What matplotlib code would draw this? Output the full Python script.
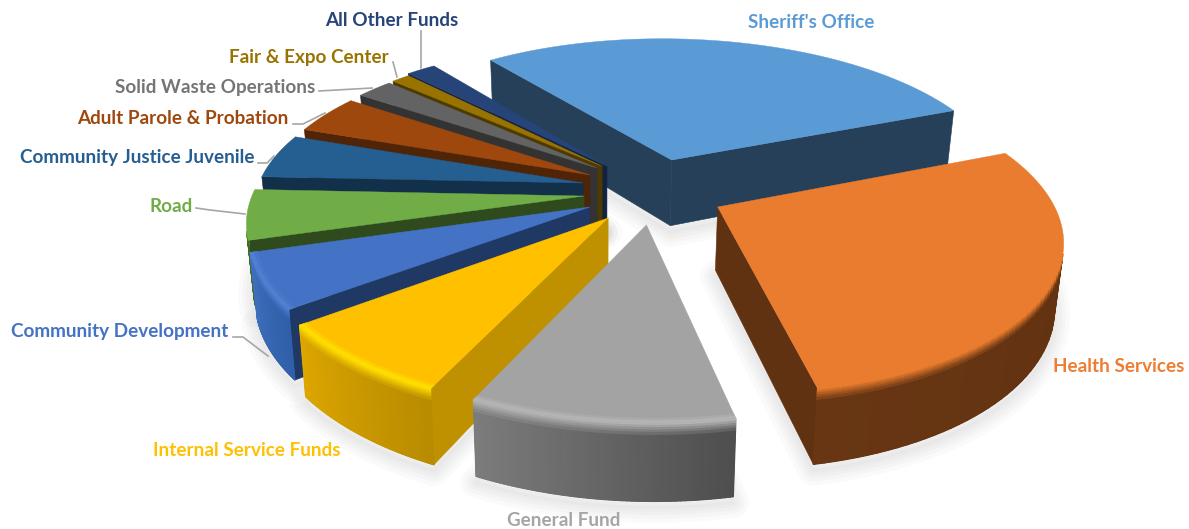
import numpy as np
import matplotlib
matplotlib.use("Agg")
import matplotlib.pyplot as plt
from matplotlib.collections import PolyCollection
from matplotlib.colors import to_rgb

# Budget shares by fund, in percent, clockwise from the Sheriff's Office
funds = ["Sheriff's Office", "Health Services", "General Fund", "Internal Service Funds",
         "Community Development", "Road", "Community Justice Juvenile",
         "Adult Parole & Probation", "Solid Waste Operations", "Fair & Expo Center",
         "All Other Funds"]
shares = [29.2, 28.0, 10.2, 7.6, 5.7, 5.25, 4.8, 4.25, 2.2, 1.1, 1.7]

# Slice appearance
top_colors = ["#5B9BD5", "#E97C2E", "#A3A3A3", "#FFC000", "#4472C4", "#70AD47",
              "#255E91", "#9E480E", "#636363", "#997300", "#264478"]
radial_colors = ["#254058", "#613211", "#5A5A5A", "#BF9000", "#1F3864", "#2F4A1D",
                 "#12304A", "#4F2407", "#333333", "#4D3A00", "#132240"]
wall_left = ["#254058", "#683613", "#7C7C7C", "#DDA600", "#3F6EBD", "#3F6B27",
             "#1A4A73", "#6A3009", "#444444", "#6A5000", "#1A2F55"]
wall_right = ["#254058", "#5E3010", "#4E4E4E", "#B88B00", "#2F5FA8", "#3F6B27",
              "#1A4A73", "#6A3009", "#444444", "#6A5000", "#1A2F55"]
rim_colors = ["#5B9BD5", "#E97C2E", "#B4B4B4", "#FFDD00", "#4F80D2", "#70AD47",
              "#255E91", "#9E480E", "#636363", "#997300", "#264478"]
label_colors = ["#5B9BD5", "#ED7D31", "#A5A5A5", "#FFC000", "#4472C4", "#70AD47",
                "#255E91", "#9E480E", "#757575", "#997300", "#264478"]

# Explosion of each slice in disc units, its radius and its thickness
offsets = [(.206, -.207), (.330, .111), (.119, .224), (.009, .181), (-.044, .111),
           (-.062, .04), (-.066, -.047), (-.046, -.102), (-.024, -.15), (-.009, -.163),
           (.006, -.163)]
radii = [1.01, .987, 1.005, 1, .985, .985, .975, .975, .97, .975, 1.0]
depths = [68, 62, 62, 62, 62, 62, 62, 62, 62, 62, 62]

label_xy = [(811, 23), (1119, 367), (564, 520), (247, 450), (120, 331), (171, 207),
            (137, 158), (183, 119), (215, 87), (309, 57), (392, 20)]
leaders = [None, None, None, None,
           [(233, 337), (243, 337), (268, 356)],
           [(196, 208), (210, 210), (245, 214)],
           [(258, 163), (267, 163), (274, 156)],
           [(293, 124), (303, 124), (325, 113)],
           [(319, 91), (372, 88)],
           [(393, 62), (397, 77)],
           [(421, 31), (421, 68)]]

START_ANGLE = 323.1
DRAW_ORDER = [0, 10, 9, 8, 7, 6, 5, 4, 3, 2, 1]

# Perspective view of the disc
OX, OY, AX_U, AX_V, PERSP = 605.0, 190.0, 335.0, 150.0, 0.17
BOTTOM_SCALE = 0.98


def top_point(u, v):
    w = 1 / (1 - PERSP * v)
    return OX + AX_U * u * w, OY + AX_V * v * w


def bottom_point(u, v, depth):
    w = 1 / (1 - PERSP * v)
    x, y = top_point(u, v)
    return OX + (x - OX) * BOTTOM_SCALE, y + depth * w


def shade(c1, c2, t):
    a, b = np.array(to_rgb(c1)), np.array(to_rgb(c2))
    return tuple(a + (b - a) * t)


def quad_area(q):
    x, y = np.array(q).T
    return 0.5 * np.sum(x * np.roll(y, -1) - np.roll(x, -1) * y)


fig = plt.figure(figsize=(11.89, 5.29), dpi=100)
ax = fig.add_axes([0, 0, 1, 1])
ax.set_xlim(0, 1189)
ax.set_ylim(529, 0)
ax.axis("off")

edges = START_ANGLE + np.concatenate([[0], np.cumsum(shares)]) * 3.6
z = 5

# Soft ground shadow under the whole pie
for i in DRAW_ORDER:
    t = np.radians(np.linspace(edges[i], edges[i + 1], 50))
    u0, v0 = offsets[i]
    us = np.r_[u0, u0 + radii[i] * np.sin(t)]
    vs = np.r_[v0, v0 - radii[i] * np.cos(t)]
    pts = np.array([bottom_point(a, b, depths[i]) for a, b in zip(us, vs)]) + [0, 6]
    for lw in (22, 16, 11, 6, 2):
        ax.fill(pts[:, 0], pts[:, 1], facecolor="none", edgecolor="#7f7f7f", alpha=0.035,
                lw=lw, joinstyle="round", zorder=1)

for i in DRAW_ORDER:
    u0, v0 = offsets[i]
    r, d = radii[i], depths[i]
    t = np.radians(np.linspace(edges[i], edges[i + 1], 61))
    us, vs = u0 + r * np.sin(t), v0 - r * np.cos(t)

    # Flat side faces running in from the rim to the apex
    for a, b in (((u0, v0), (us[0], vs[0])), ((us[-1], vs[-1]), (u0, v0))):
        q = [top_point(*a), top_point(*b), bottom_point(*b, d), bottom_point(*a, d)]
        if quad_area(q) < 0:
            ax.fill(*zip(*q), color=radial_colors[i], lw=0.4, zorder=z)
            z += 1

    # Curved outer wall, shaded across its length and softened under the rim
    rows = [0, .03, .06, .09, .12, .16, 1]
    polys, cols = [], []
    upper, lower = [], []
    for k in range(len(t) - 1):
        c = shade(wall_left[i], wall_right[i], 1 - k / (len(t) - 2))
        t_pts = [top_point(us[k], vs[k]), top_point(us[k + 1], vs[k + 1])]
        b_pts = [bottom_point(us[k], vs[k], d), bottom_point(us[k + 1], vs[k + 1], d)]
        if quad_area([t_pts[0], t_pts[1], b_pts[1], b_pts[0]]) >= 0:
            continue
        upper += t_pts
        lower += b_pts
        for j in range(len(rows) - 1):
            f0, f1 = rows[j], rows[j + 1]
            p = [np.array(t_pts[0]) * (1 - f0) + np.array(b_pts[0]) * f0,
                 np.array(t_pts[1]) * (1 - f0) + np.array(b_pts[1]) * f0,
                 np.array(t_pts[1]) * (1 - f1) + np.array(b_pts[1]) * f1,
                 np.array(t_pts[0]) * (1 - f1) + np.array(b_pts[0]) * f1]
            polys.append(p)
            cols.append(shade(rim_colors[i], c, min(1, j / 5)))
    if polys:
        # A solid backing keeps the joins between strips from showing
        mid = shade(wall_left[i], wall_right[i], 0.5)
        ax.fill(*zip(*(upper + lower[::-1])), color=mid, lw=0.3, zorder=z)
        z += 1
        ax.add_collection(PolyCollection(polys, facecolors=cols, edgecolors=cols,
                                         linewidths=0.9, zorder=z))
        z += 1

    # Top face, then a lighter bevel along the visible part of the rim
    xy = [top_point(u0, v0)] + [top_point(a, b) for a, b in zip(us, vs)]
    ax.fill(*zip(*xy), color=top_colors[i], lw=0.3, zorder=z)
    z += 1
    front = np.cos(t) < 0.25
    if front.sum() > 1 and rim_colors[i] != top_colors[i]:
        for f0, f1, m in ((.98, .99, .45), (.99, 1.0, 1.0)):
            polys, cols = [], []
            for k in np.where(front)[0][:-1]:
                ring = [(f0, k), (f0, k + 1), (f1, k + 1), (f1, k)]
                polys.append([top_point(u0 + r * f * np.sin(t[n]), v0 - r * f * np.cos(t[n]))
                              for f, n in ring])
                cols.append(shade(top_colors[i], rim_colors[i], m))
            ax.add_collection(PolyCollection(polys, facecolors=cols, edgecolors=cols,
                                             linewidths=0.5, zorder=z))
            z += 1

# Fund names with their leader lines
for name, color, pos, line in zip(funds, label_colors, label_xy, leaders):
    ax.text(pos[0], pos[1], name, color=color, ha="center", va="center",
            fontfamily="Lato", fontweight="bold", fontsize=13.55, zorder=z + 1)
    if line:
        ax.plot(*zip(*line), color="#A6A6A6", lw=1.2, zorder=z)

fig.savefig("out.png", dpi=100, facecolor="white")
